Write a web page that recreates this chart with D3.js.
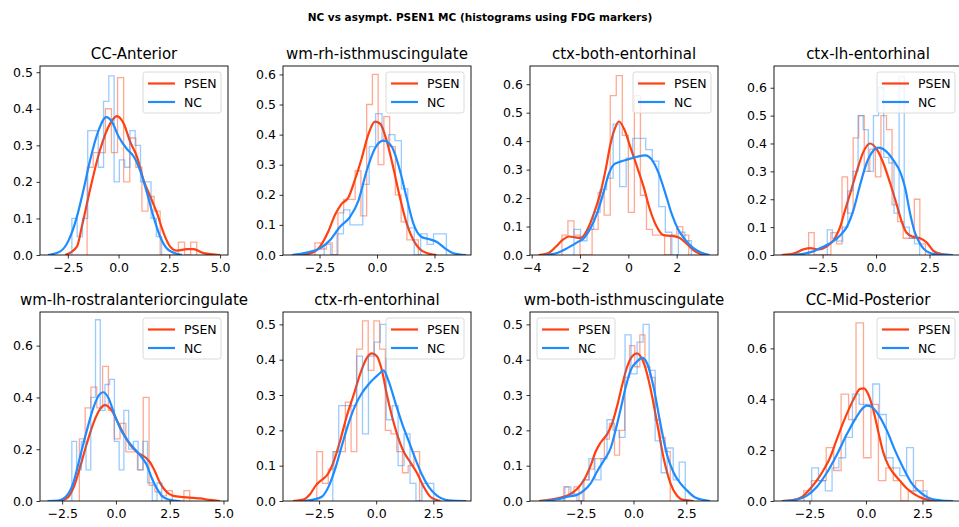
<!DOCTYPE html>
<html>
<head>
<meta charset="utf-8">
<script src="https://cdn.jsdelivr.net/npm/d3@7"></script>
<style>
  body { margin: 0; background: #fff; }
  text { font-family: "DejaVu Sans", sans-serif; }
</style>
</head>
<body>
<div id="chart"></div>
<script>
const suptitle = 'NC vs asympt. PSEN1 MC (histograms using FDG markers)';
const titles = ['CC-Anterior', 'wm-rh-isthmuscingulate', 'ctx-both-entorhinal', 'ctx-lh-entorhinal',
  'wm-lh-rostralanteriorcingulate', 'ctx-rh-entorhinal', 'wm-both-isthmuscingulate', 'CC-Mid-Posterior'];
const seriesNames = ['PSEN', 'NC'];

// axis ranges and ticks
const xDomains = [[-3.87, 5.39], [-4.09, 4.09], [-4.07, 3.71], [-4.77, 4.02],
  [-3.53, 5.21], [-4.08, 4.15], [-4.9, 4.0], [-4.07, 4.25]];
const yMax = [0.517, 0.628, 0.664, 0.678, 0.73, 0.535, 0.535, 0.743];
const xTicks = [[-2.5, 0, 2.5, 5], [-2.5, 0, 2.5], [-4, -2, 0, 2], [-2.5, 0, 2.5],
  [-2.5, 0, 2.5, 5], [-2.5, 0, 2.5], [-2.5, 0, 2.5], [-2.5, 0, 2.5]];
const yTicks = [[0, .1, .2, .3, .4, .5], [0, .1, .2, .3, .4, .5, .6], [0, .1, .2, .3, .4, .5, .6],
  [0, .1, .2, .3, .4, .5, .6], [0, .2, .4, .6], [0, .1, .2, .3, .4, .5], [0, .1, .2, .3, .4, .5], [0, .2, .4, .6]];
const legendSide = ['right', 'right', 'right', 'right', 'right', 'right', 'left', 'right'];

// histogram bins (first edge, bin width, density per bin)
const psenStart = [-1.55, -2.7, -2.75, -3.15, -1.7, -2.6, -3.3, -2.75];
const psenWidth = [0.3, 0.25, 0.25, 0.26, 0.27, 0.25, 0.24, 0.33];
const psenHeights = [
  [0.24, 0.28, 0.28, 0.40, 0.28, 0.485, 0.2, 0.32, 0.24, 0.12, 0.16, 0.12, 0, 0, 0, 0.035, 0, 0.035],
  [0.04, 0.02, 0.04, 0, 0.14, 0.185, 0.185, 0.28, 0.13, 0.5, 0.6, 0.3, 0.46, 0.36, 0.2, 0.11, 0.05, 0.05],
  [0.07, 0.12, 0.07, 0, 0, 0.09, 0.22, 0.14, 0.56, 0.63, 0.42, 0.15, 0.56, 0.21, 0.09, 0.07, 0.07, 0, 0.07, 0.1, 0.07],
  [0.08, 0, 0, 0, 0.08, 0.04, 0.28, 0.15, 0.42, 0.5, 0.3, 0.38, 0.28, 0.5, 0.45, 0.18, 0.12, 0.06, 0.06, 0.2, 0.04],
  [0.24, 0.36, 0.44, 0.36, 0.52, 0.35, 0.24, 0.3, 0.19, 0.19, 0.12, 0.4, 0.06, 0.035, 0.02, 0.04, 0, 0, 0.04],
  [0.14, 0.05, 0.09, 0.14, 0.14, 0.28, 0.14, 0.43, 0.51, 0.37, 0.51, 0.43, 0.2, 0.19, 0.14, 0.08, 0.1, 0.14],
  [0.04, 0.02, 0.04, 0, 0.06, 0.09, 0.12, 0.12, 0.175, 0.22, 0.13, 0.2, 0.35, 0.44, 0.38, 0.47, 0.38, 0.35, 0.23, 0.18, 0.14],
  [0.04, 0.08, 0.08, 0.21, 0.12, 0.42, 0.32, 0.7, 0.17, 0.38, 0.08, 0.13, 0.08, 0, 0.04, 0.08]
];
const ncStart = [-2.3, -2.3, -2.25, -2.28, -2.05, -1.9, -3.25, -2.4];
const ncWidth = [0.26, 0.28, 0.27, 0.24, 0.22, 0.26, 0.285, 0.3];
const ncHeights = [
  [0.1, 0.05, 0.1, 0.34, 0.34, 0.24, 0.42, 0.49, 0.2, 0.26, 0.24, 0.34, 0.3, 0.2, 0.2, 0.1, 0.05],
  [0.035, 0, 0.07, 0.15, 0.1, 0.1, 0.235, 0.36, 0.47, 0.38, 0.4, 0.38, 0.22, 0.09, 0, 0.07, 0.035, 0.07, 0.07],
  [0.09, 0.05, 0.09, 0.15, 0.23, 0.27, 0.46, 0.24, 0.34, 0.41, 0.41, 0.37, 0.33, 0.17, 0.08, 0, 0.08, 0.05],
  [0.09, 0.06, 0.05, 0.1, 0.23, 0.3, 0.5, 0.45, 0.3, 0.5, 0.6, 0.35, 0.33, 0.15, 0.64, 0.1, 0.06, 0.04],
  [0.23, 0.12, 0.23, 0.12, 0.4, 0.7, 0.35, 0.45, 0.47, 0.23, 0.12, 0.35, 0.2, 0.23, 0.12, 0.23, 0.07, 0, 0.07],
  [0.14, 0.27, 0.27, 0.27, 0.41, 0.19, 0.41, 0.45, 0.5, 0.23, 0.27, 0.1, 0.19, 0.05, 0, 0.05, 0.05],
  [0.04, 0.02, 0, 0.06, 0.12, 0.06, 0.12, 0.23, 0.2, 0.18, 0.47, 0.36, 0.45, 0.5, 0.37, 0.17, 0.08, 0.15, 0.06, 0.11],
  [0.13, 0.08, 0.04, 0.13, 0.17, 0.25, 0.42, 0.38, 0.38, 0.46, 0.34, 0.17, 0.13, 0.1, 0.21, 0.04, 0.04]
];

// kde curves, [x, density]
const psenKde = [
  [[-2.63, 0], [-2.05, 0.023], [-1.8, 0.08], [-1.4, 0.18], [-0.9, 0.29], [-0.41, 0.36], [-0.08, 0.38], [0.25, 0.36], [0.57, 0.31], [0.9, 0.27], [1.23, 0.205], [1.56, 0.16], [1.89, 0.115], [2.22, 0.06], [2.54, 0.023], [2.87, 0.012], [3.37, 0.016], [3.69, 0.016], [4.19, 0.005], [5.0, 0]],
  [[-3.42, 0], [-2.91, 0.005], [-2.48, 0.028], [-2.12, 0.078], [-1.83, 0.133], [-1.54, 0.17], [-1.25, 0.19], [-0.96, 0.25], [-0.67, 0.32], [-0.38, 0.4], [-0.09, 0.443], [0.13, 0.437], [0.42, 0.38], [0.71, 0.29], [1.0, 0.19], [1.29, 0.105], [1.58, 0.05], [1.87, 0.019], [2.23, 0.005], [2.59, 0]],
  [[-3.72, 0], [-3.33, 0.006], [-2.99, 0.03], [-2.72, 0.053], [-2.45, 0.065], [-2.2, 0.062], [-1.97, 0.06], [-1.69, 0.09], [-1.42, 0.147], [-1.15, 0.22], [-0.94, 0.3], [-0.74, 0.39], [-0.53, 0.45], [-0.39, 0.469], [-0.16, 0.44], [0.08, 0.38], [0.36, 0.31], [0.63, 0.24], [0.9, 0.158], [1.17, 0.1], [1.45, 0.07], [1.79, 0.067], [2.13, 0.06], [2.47, 0.035], [2.81, 0.01], [3.22, 0]],
  [[-4.41, 0], [-3.86, 0.005], [-3.4, 0.02], [-3.08, 0.025], [-2.69, 0.02], [-2.31, 0.03], [-1.92, 0.06], [-1.68, 0.1], [-1.45, 0.16], [-1.21, 0.22], [-0.9, 0.3], [-0.59, 0.37], [-0.28, 0.4], [0.03, 0.38], [0.34, 0.33], [0.65, 0.26], [0.97, 0.18], [1.2, 0.12], [1.43, 0.08], [1.74, 0.065], [2.06, 0.06], [2.37, 0.045], [2.68, 0.015], [3.07, 0.003], [3.46, 0]],
  [[-2.68, 0], [-2.29, 0.01], [-1.98, 0.05], [-1.67, 0.13], [-1.36, 0.22], [-1.05, 0.3], [-0.74, 0.355], [-0.51, 0.37], [-0.2, 0.35], [0.11, 0.3], [0.42, 0.25], [0.73, 0.21], [1.04, 0.185], [1.35, 0.17], [1.58, 0.15], [1.81, 0.115], [2.05, 0.07], [2.36, 0.035], [2.67, 0.02], [3.13, 0.015], [3.6, 0.012], [3.91, 0.01], [4.37, 0.004], [4.84, 0]],
  [[-3.65, 0], [-3.19, 0.004], [-2.89, 0.02], [-2.63, 0.045], [-2.38, 0.06], [-2.13, 0.075], [-1.87, 0.11], [-1.58, 0.17], [-1.29, 0.24], [-0.99, 0.3], [-0.7, 0.36], [-0.41, 0.405], [-0.19, 0.418], [0.03, 0.41], [0.25, 0.37], [0.47, 0.3], [0.69, 0.24], [0.91, 0.19], [1.2, 0.14], [1.49, 0.11], [1.78, 0.08], [2.08, 0.04], [2.37, 0.012], [2.81, 0]],
  [[-4.47, 0], [-3.92, 0.004], [-3.44, 0.01], [-3.05, 0.018], [-2.66, 0.035], [-2.34, 0.06], [-2.03, 0.1], [-1.79, 0.14], [-1.56, 0.165], [-1.24, 0.19], [-1.01, 0.22], [-0.77, 0.27], [-0.53, 0.33], [-0.3, 0.38], [-0.06, 0.41], [0.17, 0.418], [0.49, 0.39], [0.8, 0.32], [1.12, 0.22], [1.43, 0.12], [1.75, 0.05], [2.06, 0.015], [2.37, 0.003], [2.85, 0]],
  [[-3.73, 0], [-3.22, 0.004], [-2.85, 0.015], [-2.55, 0.04], [-2.18, 0.08], [-1.89, 0.12], [-1.59, 0.17], [-1.3, 0.24], [-1.0, 0.31], [-0.71, 0.37], [-0.49, 0.41], [-0.27, 0.44], [-0.09, 0.443], [0.1, 0.42], [0.32, 0.36], [0.55, 0.27], [0.77, 0.19], [0.99, 0.14], [1.21, 0.11], [1.5, 0.08], [1.8, 0.05], [2.09, 0.03], [2.39, 0.015], [2.83, 0.003], [3.27, 0]]
];
const ncKde = [
  [[-3.48, 0], [-2.87, 0.01], [-2.46, 0.04], [-2.05, 0.105], [-1.72, 0.18], [-1.4, 0.26], [-0.99, 0.34], [-0.61, 0.377], [-0.33, 0.365], [0, 0.324], [0.41, 0.29], [0.74, 0.27], [1.07, 0.23], [1.4, 0.17], [1.72, 0.105], [2.05, 0.05], [2.38, 0.018], [2.87, 0.003], [3.12, 0]],
  [[-3.71, 0], [-3.06, 0.008], [-2.48, 0.022], [-2.04, 0.05], [-1.61, 0.094], [-1.17, 0.127], [-0.81, 0.18], [-0.45, 0.28], [-0.09, 0.354], [0.28, 0.38], [0.64, 0.36], [1.0, 0.28], [1.29, 0.19], [1.58, 0.105], [1.94, 0.06], [2.3, 0.052], [2.59, 0.044], [2.96, 0.022], [3.32, 0.006], [3.87, 0]],
  [[-3.47, 0], [-2.92, 0.008], [-2.51, 0.025], [-2.1, 0.045], [-1.83, 0.06], [-1.56, 0.095], [-1.28, 0.15], [-1.01, 0.225], [-0.81, 0.285], [-0.6, 0.318], [-0.33, 0.328], [-0.05, 0.335], [0.36, 0.345], [0.7, 0.35], [0.97, 0.335], [1.24, 0.29], [1.52, 0.22], [1.79, 0.145], [2.06, 0.09], [2.34, 0.055], [2.68, 0.025], [3.02, 0.008], [3.36, 0]],
  [[-3.94, 0], [-3.4, 0.004], [-2.93, 0.013], [-2.46, 0.03], [-1.99, 0.05], [-1.68, 0.07], [-1.37, 0.1], [-1.06, 0.16], [-0.75, 0.25], [-0.44, 0.33], [-0.12, 0.375], [0.11, 0.385], [0.5, 0.37], [0.81, 0.34], [1.12, 0.3], [1.35, 0.245], [1.59, 0.15], [1.82, 0.08], [2.06, 0.04], [2.37, 0.013], [2.83, 0.002], [3.6, 0]],
  [[-3.18, 0], [-2.68, 0.002], [-2.29, 0.02], [-1.98, 0.07], [-1.67, 0.17], [-1.36, 0.27], [-1.05, 0.36], [-0.78, 0.41], [-0.59, 0.42], [-0.36, 0.4], [-0.05, 0.33], [0.26, 0.27], [0.57, 0.23], [0.88, 0.2], [1.19, 0.17], [1.43, 0.14], [1.66, 0.09], [1.89, 0.05], [2.2, 0.015], [2.67, 0.002], [2.98, 0]],
  [[-3.19, 0], [-2.75, 0.004], [-2.38, 0.012], [-2.09, 0.04], [-1.8, 0.09], [-1.51, 0.155], [-1.21, 0.22], [-0.92, 0.27], [-0.63, 0.305], [-0.34, 0.33], [-0.04, 0.35], [0.18, 0.363], [0.32, 0.37], [0.54, 0.34], [0.83, 0.28], [1.13, 0.22], [1.42, 0.17], [1.71, 0.12], [2.0, 0.075], [2.3, 0.04], [2.66, 0.015], [3.17, 0.002], [3.95, 0]],
  [[-4.31, 0], [-3.6, 0.005], [-3.13, 0.012], [-2.66, 0.018], [-2.34, 0.03], [-2.03, 0.05], [-1.71, 0.085], [-1.4, 0.115], [-1.08, 0.15], [-0.85, 0.2], [-0.61, 0.26], [-0.38, 0.32], [-0.14, 0.37], [0.17, 0.395], [0.41, 0.405], [0.64, 0.39], [0.96, 0.32], [1.27, 0.22], [1.59, 0.13], [1.9, 0.08], [2.22, 0.05], [2.53, 0.03], [2.92, 0.01], [3.63, 0]],
  [[-3.66, 0], [-3.07, 0.005], [-2.63, 0.02], [-2.18, 0.055], [-1.74, 0.11], [-1.3, 0.18], [-0.86, 0.26], [-0.49, 0.32], [-0.19, 0.36], [0.03, 0.375], [0.25, 0.37], [0.55, 0.34], [0.91, 0.28], [1.28, 0.2], [1.65, 0.13], [2.02, 0.07], [2.39, 0.035], [2.76, 0.013], [3.27, 0.003], [3.86, 0]]
];

const colors = { psen: '#ff4010', nc: '#1e8cff' };
const colLeft = [40, 283, 530, 774];
const rowTop = [66, 312];
const pw = 188, ph = 189;

const svg = d3.select('#chart').append('svg')
  .attr('width', 959)
  .attr('height', 527);

svg.append('text')
  .attr('x', 480)
  .attr('y', 21)
  .attr('text-anchor', 'middle')
  .attr('font-size', 10.5)
  .attr('font-weight', 'bold')
  .text(suptitle);

// outline of a step histogram
function stepPoints(start, width, heights) {
  const pts = [[start, 0]];
  heights.forEach((h, k) => {
    pts.push([start + k * width, h]);
    pts.push([start + (k + 1) * width, h]);
  });
  pts.push([start + heights.length * width, 0]);
  return pts;
}

titles.forEach((title, i) => {
  const left = colLeft[i % 4];
  const top = rowTop[Math.floor(i / 4)];
  const x = d3.scaleLinear().domain(xDomains[i]).range([left, left + pw]);
  const y = d3.scaleLinear().domain([0, yMax[i]]).range([top + ph, top]);

  svg.append('clipPath').attr('id', 'clip' + i)
    .append('rect').attr('x', left).attr('y', top).attr('width', pw).attr('height', ph);

  const plot = svg.append('g').attr('clip-path', `url(#clip${i})`);
  const step = d3.line().x(d => x(d[0])).y(d => y(d[1]));
  const kde = d3.line().x(d => x(d[0])).y(d => y(d[1])).curve(d3.curveMonotoneX);

  // PSEN first, NC on top
  plot.append('path')
    .attr('d', step(stepPoints(psenStart[i], psenWidth[i], psenHeights[i])))
    .attr('fill', 'none').attr('stroke', colors.psen)
    .attr('stroke-opacity', 0.45).attr('stroke-width', 1.3);
  plot.append('path')
    .attr('d', kde(psenKde[i]))
    .attr('fill', 'none').attr('stroke', colors.psen).attr('stroke-width', 2.2);
  plot.append('path')
    .attr('d', step(stepPoints(ncStart[i], ncWidth[i], ncHeights[i])))
    .attr('fill', 'none').attr('stroke', colors.nc)
    .attr('stroke-opacity', 0.45).attr('stroke-width', 1.3);
  plot.append('path')
    .attr('d', kde(ncKde[i]))
    .attr('fill', 'none').attr('stroke', colors.nc).attr('stroke-width', 2.2);

  // axes
  const xFmt = i === 2 ? d3.format('d') : d3.format('.1f');
  const xAxis = svg.append('g')
    .attr('transform', `translate(0,${top + ph})`)
    .call(d3.axisBottom(x).tickValues(xTicks[i]).tickFormat(xFmt).tickSize(3.5).tickPadding(5));
  const yAxis = svg.append('g')
    .attr('transform', `translate(${left},0)`)
    .call(d3.axisLeft(y).tickValues(yTicks[i]).tickFormat(d3.format('.1f')).tickSize(3.5).tickPadding(3.5));
  [xAxis, yAxis].forEach(a => {
    a.select('.domain').remove();
    a.selectAll('line').attr('stroke', '#000').attr('stroke-width', 0.8);
    a.selectAll('text').attr('font-size', 12.5).attr('fill', '#000')
      .attr('font-family', '"DejaVu Sans", sans-serif');
  });

  svg.append('rect')
    .attr('x', left).attr('y', top).attr('width', pw).attr('height', ph)
    .attr('fill', 'none').attr('stroke', '#000').attr('stroke-width', 0.9);

  svg.append('text')
    .attr('x', left + pw / 2)
    .attr('y', top - 7)
    .attr('text-anchor', 'middle')
    .attr('font-size', 15)
    .text(title);

  // legend
  const lx = legendSide[i] === 'right' ? left + pw - 7 - 78 : left + 7;
  const ly = top + 6;
  const lg = svg.append('g').attr('transform', `translate(${lx},${ly})`);
  lg.append('rect')
    .attr('width', 78).attr('height', 41).attr('rx', 2.5)
    .attr('fill', '#fff').attr('fill-opacity', 0.8)
    .attr('stroke', '#d0d0d0').attr('stroke-width', 0.8);
  [colors.psen, colors.nc].forEach((c, k) => {
    const yy = 11.5 + k * 18.5;
    lg.append('line')
      .attr('x1', 5).attr('x2', 32).attr('y1', yy).attr('y2', yy)
      .attr('stroke', c).attr('stroke-width', 2.2);
    lg.append('text')
      .attr('x', 41).attr('y', yy + 4.5)
      .attr('font-size', 12.5)
      .text(seriesNames[k]);
  });
});
</script>
</body>
</html>
